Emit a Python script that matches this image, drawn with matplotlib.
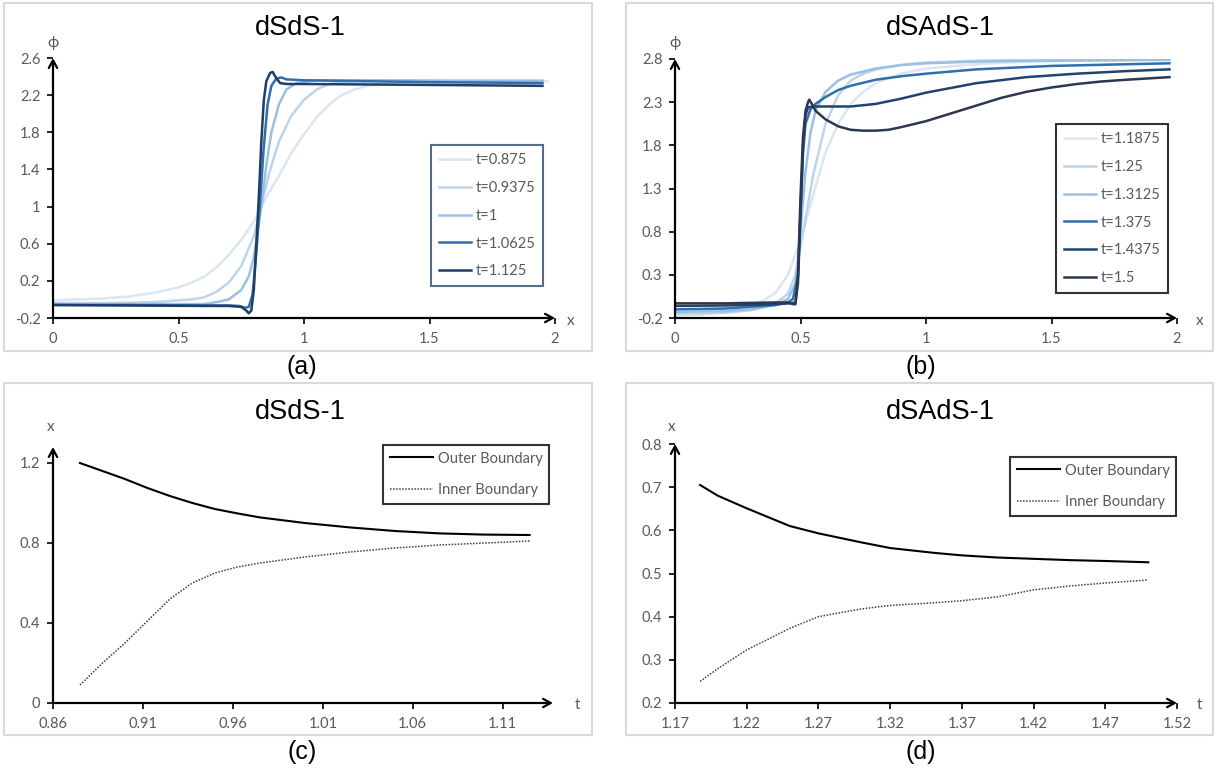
import matplotlib
matplotlib.use("Agg")
import matplotlib.pyplot as plt
from matplotlib.patches import Rectangle

# ---- panel (a): dSdS-1, phi(x) at several times ----
a_labels = ["t=0.875", "t=0.9375", "t=1", "t=1.0625", "t=1.125"]
a_colors = ["#DAE6F3", "#BDD5EC", "#9CC0E3", "#2F6FAE", "#203F66"]
a_x = [
    [0, 0.1, 0.2, 0.3, 0.4, 0.5, 0.55, 0.6, 0.65, 0.7, 0.75, 0.8, 0.83, 0.86, 0.9, 0.95, 1.0, 1.05,
     1.1, 1.15, 1.2, 1.25, 1.3, 1.4, 1.6, 1.8, 1.97],
    [0, 0.2, 0.4, 0.5, 0.55, 0.6, 0.65, 0.7, 0.75, 0.8, 0.83, 0.86, 0.9, 0.95, 1.0, 1.05, 1.1, 1.2,
     1.4, 1.7, 1.95],
    [0, 0.2, 0.4, 0.6, 0.65, 0.7, 0.75, 0.78, 0.8, 0.83, 0.85, 0.87, 0.9, 0.93, 0.97, 1.05, 1.3,
     1.6, 1.95],
    [0, 0.3, 0.6, 0.7, 0.74, 0.765, 0.78, 0.795, 0.81, 0.825, 0.84, 0.855, 0.87, 0.89, 0.91, 0.93,
     1.0, 1.5, 1.95],
    [0, 0.3, 0.6, 0.7, 0.75, 0.77, 0.78, 0.79, 0.8, 0.81, 0.82, 0.83, 0.84, 0.85, 0.865, 0.875,
     0.89, 0.905, 0.93, 1.0, 1.5, 1.95],
]
a_y = [
    [-0.01, 0.0, 0.01, 0.03, 0.07, 0.13, 0.18, 0.24, 0.34, 0.48, 0.64, 0.84, 1.0, 1.15, 1.33, 1.58,
     1.78, 1.96, 2.1, 2.2, 2.26, 2.3, 2.32, 2.34, 2.35, 2.35, 2.35],
    [-0.04, -0.04, -0.03, -0.01, 0.0, 0.02, 0.08, 0.18, 0.36, 0.68, 1.0, 1.35, 1.7, 1.98, 2.15,
     2.26, 2.32, 2.35, 2.36, 2.36, 2.36],
    [-0.05, -0.05, -0.05, -0.05, -0.03, 0.0, 0.1, 0.25, 0.45, 1.0, 1.45, 1.8, 2.1, 2.26, 2.33,
     2.36, 2.36, 2.35, 2.35],
    [-0.06, -0.06, -0.065, -0.065, -0.07, -0.09, -0.08, 0.05, 0.5, 1.05, 1.65, 2.1, 2.3, 2.38,
     2.39, 2.37, 2.36, 2.34, 2.33],
    [-0.06, -0.065, -0.07, -0.07, -0.08, -0.12, -0.15, -0.12, 0.1, 0.6, 1.1, 1.7, 2.15, 2.35,
     2.44, 2.45, 2.38, 2.33, 2.32, 2.32, 2.31, 2.3],
]
a_xticks = [0, 0.5, 1, 1.5, 2]
a_xticklabels = ["0", "0.5", "1", "1.5", "2"]
a_yticks = [-0.2, 0.2, 0.6, 1.0, 1.4, 1.8, 2.2, 2.6]
a_yticklabels = ["-0.2", "0.2", "0.6", "1", "1.4", "1.8", "2.2", "2.6"]

# ---- panel (b): dSAdS-1 ----
b_labels = ["t=1.1875", "t=1.25", "t=1.3125", "t=1.375", "t=1.4375", "t=1.5"]
b_colors = ["#DAE6F3", "#BDD5EC", "#9CC0E3", "#2F6FAE", "#21446E", "#2B3850"]
b_x = [
    [0, 0.1, 0.2, 0.25, 0.3, 0.35, 0.4, 0.45, 0.5, 0.55, 0.6, 0.65, 0.7, 0.75, 0.8, 0.9, 1.0, 1.2,
     1.4, 1.6, 1.8, 1.97],
    [0, 0.1, 0.2, 0.3, 0.35, 0.4, 0.45, 0.48, 0.5, 0.52, 0.55, 0.6, 0.65, 0.7, 0.75, 0.8, 0.9, 1.0,
     1.2, 1.4, 1.6, 1.97],
    [0, 0.2, 0.3, 0.4, 0.45, 0.48, 0.5, 0.52, 0.54, 0.56, 0.6, 0.65, 0.7, 0.8, 0.9, 1.0, 1.2, 1.5,
     1.97],
    [0, 0.2, 0.4, 0.45, 0.47, 0.49, 0.5, 0.51, 0.52, 0.54, 0.56, 0.6, 0.65, 0.7, 0.8, 0.9, 1.0,
     1.2, 1.5, 1.97],
    [0, 0.2, 0.4, 0.46, 0.48, 0.49, 0.5, 0.51, 0.52, 0.53, 0.55, 0.6, 0.7, 0.8, 0.9, 1.0, 1.2,
     1.4, 1.6, 1.8, 1.97],
    [0, 0.2, 0.4, 0.45, 0.47, 0.48, 0.49, 0.5, 0.51, 0.52, 0.53, 0.535, 0.545, 0.56, 0.6, 0.65,
     0.7, 0.75, 0.8, 0.85, 0.9, 1.0, 1.1, 1.2, 1.3, 1.4, 1.5, 1.6, 1.7, 1.8, 1.97],
]
b_y = [
    [-0.17, -0.16, -0.13, -0.1, -0.06, 0.0, 0.09, 0.3, 0.7, 1.22, 1.72, 2.05, 2.28, 2.42, 2.52,
     2.63, 2.69, 2.74, 2.77, 2.78, 2.79, 2.79],
    [-0.15, -0.15, -0.14, -0.11, -0.08, -0.03, 0.08, 0.3, 0.62, 0.95, 1.45, 2.05, 2.38, 2.55, 2.63,
     2.68, 2.73, 2.76, 2.78, 2.79, 2.8, 2.8],
    [-0.13, -0.12, -0.1, -0.05, 0.02, 0.2, 0.8, 1.5, 1.95, 2.2, 2.42, 2.55, 2.62, 2.69, 2.73, 2.75,
     2.77, 2.78, 2.79],
    [-0.1, -0.09, -0.05, -0.02, 0.02, 0.3, 1.0, 1.7, 2.05, 2.22, 2.28, 2.36, 2.44, 2.49, 2.56, 2.6,
     2.63, 2.68, 2.72, 2.75],
    [-0.06, -0.055, -0.04, -0.03, -0.02, 0.2, 1.0, 1.8, 2.15, 2.24, 2.25, 2.25, 2.25, 2.28, 2.34,
     2.41, 2.52, 2.59, 2.63, 2.66, 2.68],
    [-0.03, -0.03, -0.02, -0.02, -0.04, -0.04, 0.3, 1.2, 1.9, 2.2, 2.3, 2.33, 2.28, 2.2, 2.1, 2.02,
     1.98, 1.97, 1.97, 1.98, 2.01, 2.08, 2.17, 2.26, 2.35, 2.42, 2.47, 2.51, 2.54, 2.56, 2.59],
]
b_xticks = [0, 0.5, 1, 1.5, 2]
b_xticklabels = ["0", "0.5", "1", "1.5", "2"]
b_yticks = [-0.2, 0.3, 0.8, 1.3, 1.8, 2.3, 2.8]
b_yticklabels = ["-0.2", "0.3", "0.8", "1.3", "1.8", "2.3", "2.8"]

# ---- panel (c): dSdS-1 boundaries ----
c_t = [0.875, 0.8875, 0.9, 0.9125, 0.925, 0.9375, 0.95, 0.9625, 0.975, 1.0, 1.025, 1.05, 1.075,
       1.1, 1.125]
c_outer = [1.2, 1.16, 1.12, 1.075, 1.035, 1.0, 0.97, 0.948, 0.928, 0.9, 0.878, 0.86, 0.848,
           0.842, 0.84]
c_inner = [0.09, 0.2, 0.3, 0.41, 0.52, 0.6, 0.65, 0.68, 0.7, 0.73, 0.755, 0.775, 0.79, 0.8, 0.81]
c_xticks = [0.86, 0.91, 0.96, 1.01, 1.06, 1.11]
c_xticklabels = ["0.86", "0.91", "0.96", "1.01", "1.06", "1.11"]
c_yticks = [0, 0.4, 0.8, 1.2]
c_yticklabels = ["0", "0.4", "0.8", "1.2"]

# ---- panel (d): dSAdS-1 boundaries ----
d_t = [1.1875, 1.2, 1.22, 1.25, 1.27, 1.3, 1.32, 1.35, 1.37, 1.395, 1.42, 1.445, 1.47, 1.5]
d_outer = [0.705, 0.68, 0.651, 0.61, 0.593, 0.572, 0.559, 0.548, 0.542, 0.537, 0.534, 0.531,
           0.529, 0.526]
d_inner = [0.25, 0.28, 0.323, 0.373, 0.4, 0.418, 0.426, 0.432, 0.437, 0.446, 0.462, 0.471,
           0.478, 0.485]
d_xticks = [1.17, 1.22, 1.27, 1.32, 1.37, 1.42, 1.47, 1.52]
d_xticklabels = ["1.17", "1.22", "1.27", "1.32", "1.37", "1.42", "1.47", "1.52"]
d_yticks = [0.2, 0.3, 0.4, 0.5, 0.6, 0.7, 0.8]
d_yticklabels = ["0.2", "0.3", "0.4", "0.5", "0.6", "0.7", "0.8"]

W, H = 1217, 771
GRAY = "#595959"
TICKFONT = "Lato"
TITLEFONT = "Liberation Sans"

fig = plt.figure(figsize=(W / 100, H / 100), dpi=100)
fig.patch.set_facecolor("white")


def fx(px):
    return px / W


def fy(py):
    return 1 - py / H


def make_axes(left, right, top, bottom, xlim, ylim, xticks, xlabels, yticks, ylabels):
    ax = fig.add_axes([fx(left), fy(bottom), (right - left) / W, (bottom - top) / H])
    ax.set_xlim(*xlim)
    ax.set_ylim(*ylim)
    for s in ax.spines.values():
        s.set_visible(False)
    ax.set_xticks(xticks)
    ax.set_xticklabels(xlabels)
    ax.set_yticks(yticks)
    ax.set_yticklabels(ylabels)
    ax.tick_params(direction="out", length=4, width=1.2, color="black",
                   labelcolor=GRAY, labelsize=10.5)
    ax.tick_params(axis="x", pad=6)
    ax.tick_params(axis="y", pad=5)
    for lab in ax.get_xticklabels() + ax.get_yticklabels():
        lab.set_fontfamily(TICKFONT)
    arrow = dict(arrowstyle="->,head_length=0.55,head_width=0.3", lw=1.6, color="black",
                 shrinkA=0, shrinkB=0)
    ax.annotate("", xy=(1, 0), xytext=(0, 0), xycoords="axes fraction", arrowprops=arrow)
    ax.annotate("", xy=(0, 1), xytext=(0, 0), xycoords="axes fraction", arrowprops=arrow)
    ax.patch.set_alpha(0)
    return ax


def style_legend(leg, edge):
    leg.get_frame().set_edgecolor(edge)
    leg.get_frame().set_linewidth(1.5)
    for txt in leg.get_texts():
        txt.set_color(GRAY)


# panel frames
for (l, r, t, b) in [(4, 592, 3, 351), (626, 1213, 3, 351), (4, 592, 383, 735), (626, 1213, 383, 735)]:
    fig.patches.append(Rectangle((fx(l), fy(b)), (r - l) / W, (b - t) / H, transform=fig.transFigure,
                                 fill=False, edgecolor="#D9D9D9", lw=1.5))

# (a)
ax_a = make_axes(53, 555, 58, 318, (0, 2), (-0.2, 2.6), a_xticks, a_xticklabels, a_yticks, a_yticklabels)
for xs, ys, c, lab in zip(a_x, a_y, a_colors, a_labels):
    ax_a.plot(xs, ys, color=c, lw=1.8, label=lab, solid_joinstyle="round")
leg = ax_a.legend(loc="upper left", bbox_to_anchor=(fx(431), fy(145)), bbox_transform=fig.transFigure,
                  fancybox=False, borderpad=0.55, labelspacing=0.95, handlelength=2.2, handletextpad=0.3,
                  borderaxespad=0, prop={"family": TICKFONT, "size": 10.5})
style_legend(leg, "#2E4A6B")

# (b)
ax_b = make_axes(675, 1177, 59, 318, (0, 2), (-0.2, 2.8), b_xticks, b_xticklabels, b_yticks, b_yticklabels)
for xs, ys, c, lab in zip(b_x, b_y, b_colors, b_labels):
    ax_b.plot(xs, ys, color=c, lw=1.8, label=lab, solid_joinstyle="round")
leg = ax_b.legend(loc="upper left", bbox_to_anchor=(fx(1056), fy(124)), bbox_transform=fig.transFigure,
                  fancybox=False, borderpad=0.55, labelspacing=0.95, handlelength=2.2, handletextpad=0.3,
                  borderaxespad=0, prop={"family": TICKFONT, "size": 10.5})
style_legend(leg, "black")

# (c)
ax_c = make_axes(53, 553, 447, 703, (0.86, 1.138), (0, 1.28), c_xticks, c_xticklabels, c_yticks, c_yticklabels)
ax_c.plot(c_t, c_outer, color="black", lw=1.5, label="Outer Boundary")
ax_c.plot(c_t, c_inner, color="#404040", lw=1.1, ls=(0, (1, 1)), label="Inner Boundary")
leg = ax_c.legend(loc="upper left", bbox_to_anchor=(fx(383), fy(445)), bbox_transform=fig.transFigure,
                  fancybox=False, borderpad=0.45, labelspacing=1.2, handlelength=3.0, handletextpad=0.3,
                  borderaxespad=0, prop={"family": TICKFONT, "size": 10.5})
style_legend(leg, "black")

# (d)
ax_d = make_axes(675, 1177, 444, 703, (1.17, 1.52), (0.2, 0.8), d_xticks, d_xticklabels, d_yticks, d_yticklabels)
ax_d.plot(d_t, d_outer, color="black", lw=1.5, label="Outer Boundary")
ax_d.plot(d_t, d_inner, color="#404040", lw=1.1, ls=(0, (1, 1)), label="Inner Boundary")
leg = ax_d.legend(loc="upper left", bbox_to_anchor=(fx(1010), fy(457)), bbox_transform=fig.transFigure,
                  fancybox=False, borderpad=0.45, labelspacing=1.2, handlelength=3.0, handletextpad=0.3,
                  borderaxespad=0, prop={"family": TICKFONT, "size": 10.5})
style_legend(leg, "black")

# titles and panel captions
for (px, py, s) in [(300, 28, "dSdS-1"), (940, 28, "dSAdS-1"), (300, 412, "dSdS-1"), (940, 412, "dSAdS-1")]:
    fig.text(fx(px), fy(py), s, ha="center", va="center", fontsize=19.5, family=TITLEFONT, color="black")
for (px, py, s) in [(302, 367, "(a)"), (921, 367, "(b)"), (302, 752, "(c)"), (921, 752, "(d)")]:
    fig.text(fx(px), fy(py), s, ha="center", va="center", fontsize=18, family=TITLEFONT, color="black")

# axis name labels
for (px, py, s) in [(53, 43, "\u03d5"), (675, 43, "\u03d5"), (51, 427, "x"), (672, 427, "x"),
                    (571, 321, "x"), (1200, 321, "x"), (577, 705, "t"), (1199, 705, "t")]:
    fig.text(fx(px), fy(py), s, ha="center", va="center", fontsize=11,
             family=[TICKFONT, "DejaVu Sans"], color=GRAY)

fig.savefig("out.png", dpi=100)
